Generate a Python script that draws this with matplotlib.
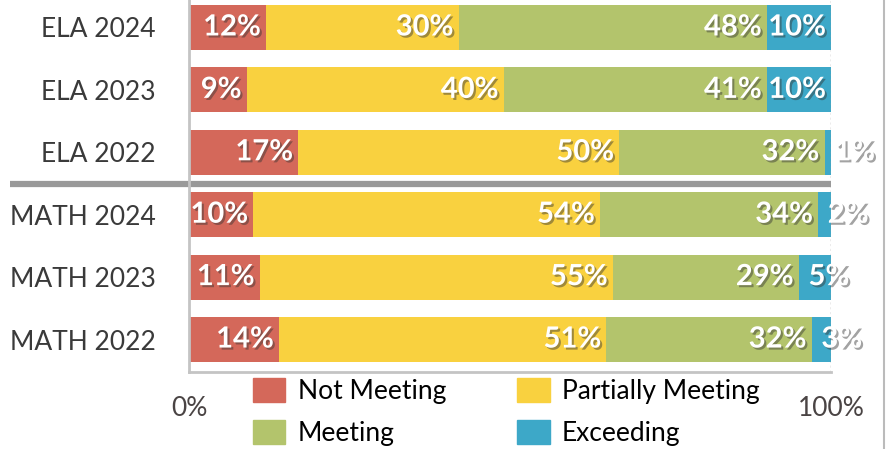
import matplotlib.pyplot as plt
import matplotlib.patheffects as pe
from matplotlib.lines import Line2D
from matplotlib.patches import Patch
import numpy as np

plt.rcParams['font.family'] = ['Lato', 'DejaVu Sans']

# data (bottom to top)
rows = ['MATH 2022', 'MATH 2023', 'MATH 2024', 'ELA 2022', 'ELA 2023', 'ELA 2024']
not_meeting = [14, 11, 10, 17, 9, 12]
partially = [51, 55, 54, 50, 40, 30]
meeting = [32, 29, 34, 32, 41, 48]
exceeding = [3, 5, 2, 1, 10, 10]

series = [not_meeting, partially, meeting, exceeding]
names = ['Not Meeting', 'Partially Meeting', 'Meeting', 'Exceeding']
colors = ['#D4685A', '#F9D13F', '#B3C46C', '#3DA8C8']

fig = plt.figure(figsize=(8.9, 4.49), dpi=100)
ax = fig.add_axes([189 / 890, 1 - 372 / 449, 642 / 890, 372 / 449])

y = np.arange(len(rows))
shadow = [pe.withSimplePatchShadow(offset=(1.5, -1.5), shadow_rgbFace='#333333', alpha=0.45)]

left = np.zeros(len(rows))
for vals, col in zip(series, colors):
    vals = np.array(vals, dtype=float)
    ax.barh(y, vals, left=left, height=0.72, color=col, edgecolor='none')
    for yi, l, v in zip(y, left, vals):
        if v <= 5:
            ax.text(l + 1.5, yi, f'{int(v)}%', ha='left', va='center', color='white',
                    fontsize=21, fontweight='bold', path_effects=shadow, clip_on=False)
        else:
            ax.text(l + v - 0.8, yi, f'{int(v)}%', ha='right', va='center', color='white',
                    fontsize=21, fontweight='bold', path_effects=shadow)
    left += vals

ax.set_xlim(0, 100)
ax.set_ylim(-0.52, 5.44)
ax.set_yticks(y)
ax.set_yticklabels(rows, fontsize=19, color='#3a3a3a')
ax.set_xticks([0, 100])
ax.set_xticklabels(['0%', '100%'], fontsize=19, color='#4a4444')
ax.tick_params(axis='both', length=0)
ax.tick_params(axis='x', pad=17)
ax.tick_params(axis='y', pad=24)

for s in ['top', 'right']:
    ax.spines[s].set_visible(False)
ax.spines['left'].set_color('#c4c4c4')
ax.spines['left'].set_linewidth(2)
ax.spines['bottom'].set_color('#c4c4c4')
ax.spines['bottom'].set_linewidth(2)

ax.axvline(100, color='#999999', lw=1, ls=(0, (1.5, 2)))

# separator between ELA and MATH
ax.plot([-27.9, 100], [2.5, 2.5], color='#999999', lw=4.5, clip_on=False, solid_capstyle='butt')

# right border
fig.add_artist(Line2D([884 / 890, 884 / 890], [0, 1], color='#bbbbbb', lw=1.5))

handles = [Patch(color=colors[0]), Patch(color=colors[2]), Patch(color=colors[1]), Patch(color=colors[3])]
labels = [names[0], names[2], names[1], names[3]]
fig.legend(handles, labels, ncol=2, loc='upper left', bbox_to_anchor=(253 / 890, 1 - 378 / 449),
           frameon=False, fontsize=19, handlelength=1.23, handleheight=1.0,
           handletextpad=0.46, columnspacing=2.7, labelspacing=0.62, borderpad=0,
           borderaxespad=0)

fig.savefig('out.png', dpi=100)
